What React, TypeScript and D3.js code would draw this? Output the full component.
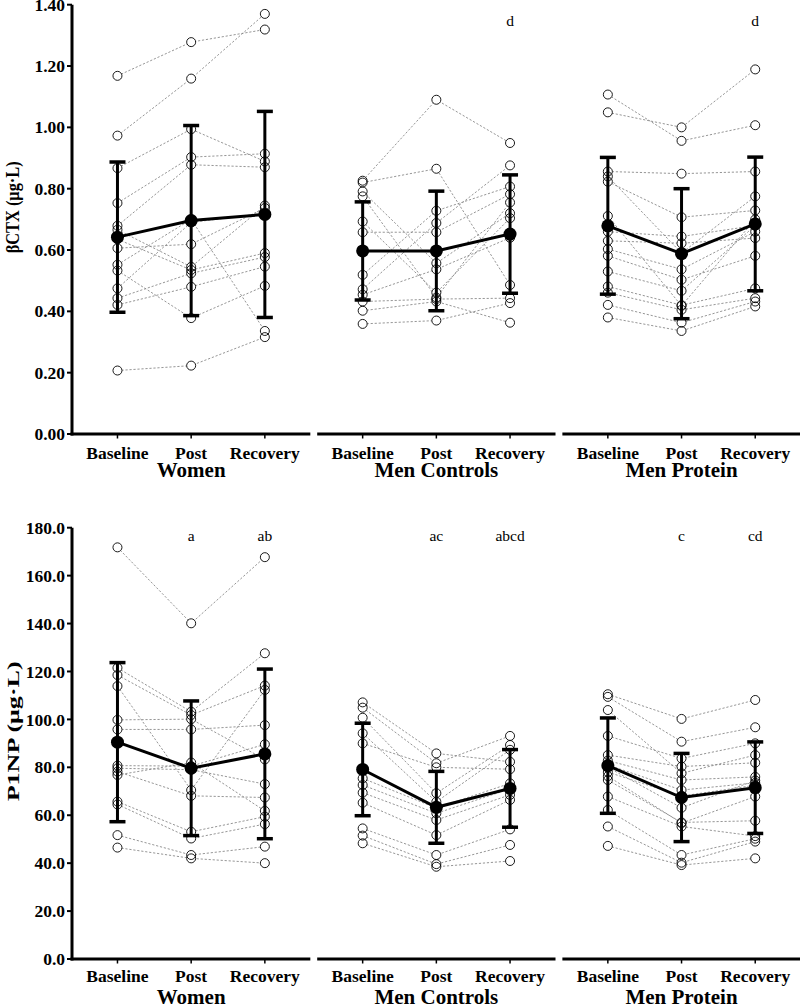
import React from "react";
import * as d3 from "d3";

const timepoints = ["Baseline", "Post", "Recovery"];
const groups = ["Women", "Men Controls", "Men Protein"];

const ctxTicks = [0, 0.2, 0.4, 0.6, 0.8, 1.0, 1.2, 1.4];
const p1npTicks = [0, 20, 40, 60, 80, 100, 120, 140, 160, 180];

// βCTX individual subjects [Baseline, Post, Recovery]
const ctxWomen = [
  [1.168, 1.278, 1.319],
  [0.973, 1.159, 1.37],
  [0.867, 0.994, 0.889],
  [0.753, 0.903, 0.914],
  [0.679, 0.878, 0.87],
  [0.666, 0.545, 0.745],
  [0.635, 0.535, 0.59],
  [0.606, 0.619, 0.737],
  [0.552, 0.7, 0.336],
  [0.533, 0.378, 0.483],
  [0.475, 0.69, 0.72],
  [0.443, 0.524, 0.577],
  [0.421, 0.48, 0.546],
  [0.207, 0.223, 0.316],
];
const ctxMenControls = [
  [0.826, 1.09, 0.949],
  [0.82, 0.865, 0.486],
  [0.791, 0.557, 0.72],
  [0.775, 0.445, 0.755],
  [0.693, 0.461, 0.704],
  [0.658, 0.658, 0.782],
  [0.519, 0.728, 0.807],
  [0.472, 0.688, 0.876],
  [0.454, 0.537, 0.64],
  [0.432, 0.44, 0.443],
  [0.402, 0.432, 0.363],
  [0.359, 0.37, 0.427],
];
const ctxMenProtein = [
  [1.107, 0.956, 1.007],
  [1.049, 1.0, 1.189],
  [0.856, 0.849, 0.856],
  [0.84, 0.59, 0.775],
  [0.823, 0.707, 0.729],
  [0.711, 0.418, 0.7],
  [0.66, 0.644, 0.68],
  [0.63, 0.622, 0.639],
  [0.603, 0.537, 0.66],
  [0.581, 0.503, 0.581],
  [0.53, 0.467, 0.68],
  [0.481, 0.42, 0.475],
  [0.461, 0.405, 0.443],
  [0.421, 0.363, 0.432],
  [0.38, 0.336, 0.416],
];
const ctxMean = [
  [0.642, 0.696, 0.716],
  [0.597, 0.597, 0.652],
  [0.679, 0.588, 0.685],
];
const ctxSD = [
  [0.245, 0.31, 0.336],
  [0.16, 0.195, 0.193],
  [0.223, 0.212, 0.218],
];
const ctxLetters = [
  ["", "", ""],
  ["", "", "d"],
  ["", "", "d"],
];

// P1NP individual subjects [Baseline, Post, Recovery]
const p1npWomen = [
  [171.8, 140.1, 167.7],
  [121.5, 103.2, 127.6],
  [118.5, 101.8, 114.1],
  [113.9, 70.5, 112.3],
  [99.8, 100.1, 83.3],
  [95.8, 95.8, 97.6],
  [80.7, 80.5, 89.6],
  [79.6, 79.0, 73.0],
  [78.2, 68.1, 67.4],
  [76.8, 82.0, 61.8],
  [65.7, 53.1, 59.4],
  [64.5, 50.3, 56.3],
  [51.7, 43.4, 46.9],
  [46.5, 42.0, 40.0],
];
const p1npMenControls = [
  [107.1, 85.8, 82.3],
  [104.9, 81.7, 93.1],
  [100.7, 69.2, 89.3],
  [94.2, 65.6, 87.3],
  [90.0, 80.0, 79.2],
  [75.4, 63.0, 73.3],
  [72.6, 60.8, 71.0],
  [69.4, 58.0, 68.5],
  [65.2, 51.7, 66.4],
  [54.5, 43.4, 54.1],
  [51.5, 39.6, 47.6],
  [48.3, 38.5, 40.9],
];
const p1npMenProtein = [
  [110.5, 100.2, 108.1],
  [109.4, 90.7, 96.7],
  [103.9, 77.5, 85.1],
  [93.1, 83.7, 90.0],
  [85.1, 80.3, 81.9],
  [82.8, 74.7, 76.0],
  [81.0, 70.5, 73.5],
  [80.0, 63.1, 74.5],
  [78.0, 68.0, 72.5],
  [76.3, 56.7, 67.8],
  [74.7, 57.0, 57.7],
  [67.8, 55.3, 51.3],
  [62.2, 43.4, 50.2],
  [55.3, 40.2, 49.0],
  [47.2, 39.2, 42.0],
];
const p1npMean = [
  [90.5, 79.6, 85.6],
  [79.1, 63.3, 71.2],
  [80.7, 67.4, 71.5],
];
const p1npSD = [
  [33.2, 28.1, 35.4],
  [19.3, 15.0, 16.2],
  [19.9, 18.4, 19.1],
];
const p1npLetters = [
  ["", "a", "ab"],
  ["", "ac", "abcd"],
  ["", "c", "cd"],
];

const FONT = "'Liberation Serif', 'Times New Roman', serif";

const xBand = d3.scaleBand<string>().domain(groups).range([72, 800.7]).paddingInner(0.028);
const xPoint = d3.scalePoint<string>().domain(timepoints).range([0, xBand.bandwidth()]).padding(0.617);

type PanelProps = {
  subjects: number[][][];
  means: number[][];
  sds: number[][];
  letters: string[][];
  ticks: number[];
  fmt: (v: number) => string;
  y: d3.ScaleLinear<number, number>;
  title: string;
  titleLen: number;
  titleSize: number;
  tickLabelY: number;
  groupLabelY: number;
  letterValue: number;
};

function Panel(p: PanelProps) {
  const { y } = p;
  const [y0, y1] = y.range();
  const lineGen = d3.line<number>().x((_, i) => xPoint(timepoints[i])!).y((d) => y(d));
  const yMid = (y0 + y1) / 2;
  return (
    <g>
      {/* y axis */}
      <line x1={72} x2={72} y1={y1} y2={y0 + 1.5} stroke="#000" strokeWidth={3} />
      {p.ticks.map((t) => (
        <g key={t}>
          <line x1={67} x2={72} y1={y(t)} y2={y(t)} stroke="#000" strokeWidth={2} />
          <text x={65} y={y(t)} dy="0.35em" textAnchor="end" fontFamily={FONT} fontWeight="bold" fontSize={17.5}>
            {p.fmt(t)}
          </text>
        </g>
      ))}
      <text
        transform={`translate(19,${yMid - 12}) rotate(-90)`}
        textAnchor="middle"
        fontFamily={FONT}
        fontWeight="bold"
        fontSize={p.titleSize}
        textLength={p.titleLen}
        lengthAdjust="spacingAndGlyphs"
      >
        {p.title}
      </text>
      {groups.map((g, gi) => {
        const gx = xBand(g)!;
        const subj = p.subjects[gi];
        return (
          <g key={g} transform={`translate(${gx},0)`}>
            {/* x axis segment */}
            <line x1={gi === 0 ? -1.5 : 0} x2={xBand.bandwidth()} y1={y0} y2={y0} stroke="#000" strokeWidth={3} />
            {timepoints.map((t) => (
              <g key={t}>
                <line x1={xPoint(t)} x2={xPoint(t)} y1={y0} y2={y0 + 4.5} stroke="#000" strokeWidth={1.5} />
                <text x={xPoint(t)} y={p.tickLabelY} textAnchor="middle" fontFamily={FONT} fontWeight="bold" fontSize={17.5}>
                  {t}
                </text>
              </g>
            ))}
            <text x={xBand.bandwidth() / 2} y={p.groupLabelY} textAnchor="middle" fontFamily={FONT} fontWeight="bold" fontSize={21}>
              {g}
            </text>
            {/* individual lines */}
            {subj.map((s, si) => (
              <path key={si} d={lineGen(s)!} fill="none" stroke="#8a8a8a" strokeWidth={0.9} strokeDasharray="2.2,1.8" />
            ))}
            {subj.map((s, si) =>
              s.map((v, ti) => (
                <circle key={`w${si}-${ti}`} cx={xPoint(timepoints[ti])} cy={y(v)} r={4.5} fill="#fff" />
              ))
            )}
            {subj.map((s, si) =>
              s.map((v, ti) => (
                <circle key={`c${si}-${ti}`} cx={xPoint(timepoints[ti])} cy={y(v)} r={4.5} fill="none" stroke="#000" strokeWidth={0.9} />
              ))
            )}
            {/* error bars */}
            {timepoints.map((t, ti) => {
              const m = p.means[gi][ti];
              const sd = p.sds[gi][ti];
              const cx = xPoint(t)!;
              return (
                <g key={`e${t}`}>
                  <line x1={cx} x2={cx} y1={y(m + sd)} y2={y(m - sd)} stroke="#000" strokeWidth={3} />
                  <line x1={cx - 8} x2={cx + 8} y1={y(m + sd)} y2={y(m + sd)} stroke="#000" strokeWidth={3.5} />
                  <line x1={cx - 8} x2={cx + 8} y1={y(m - sd)} y2={y(m - sd)} stroke="#000" strokeWidth={3.5} />
                </g>
              );
            })}
            <path d={lineGen(p.means[gi])!} fill="none" stroke="#000" strokeWidth={3} />
            {timepoints.map((t, ti) => (
              <circle key={`m${t}`} cx={xPoint(t)} cy={y(p.means[gi][ti])} r={6.5} fill="#000" />
            ))}
            {timepoints.map((t, ti) =>
              p.letters[gi][ti] ? (
                <text key={`l${t}`} x={xPoint(t)} y={y(p.letterValue)} textAnchor="middle" fontFamily={FONT} fontSize={15.5}>
                  {p.letters[gi][ti]}
                </text>
              ) : null
            )}
          </g>
        );
      })}
    </g>
  );
}

export default function App() {
  const yCtx = d3.scaleLinear().domain([0, 1.4]).range([434, 4.7]);
  const yP1np = d3.scaleLinear().domain([0, 180]).range([959, 527.7]);
  return (
    <svg width={800} height={1007} style={{ position: "absolute", left: 0, top: 0, background: "#fff" }}>
      <rect width={800} height={1007} fill="#fff" />
      <Panel
        subjects={[ctxWomen, ctxMenControls, ctxMenProtein]}
        means={ctxMean}
        sds={ctxSD}
        letters={ctxLetters}
        ticks={ctxTicks}
        fmt={(v) => v.toFixed(2)}
        y={yCtx}
        title="βCTX (μg·L)"
        titleLen={92}
        titleSize={18}
        tickLabelY={459}
        groupLabelY={477}
        letterValue={1.33}
      />
      <Panel
        subjects={[p1npWomen, p1npMenControls, p1npMenProtein]}
        means={p1npMean}
        sds={p1npSD}
        letters={p1npLetters}
        ticks={p1npTicks}
        fmt={(v) => v.toFixed(1)}
        y={yP1np}
        title="P1NP (μg·L)"
        titleLen={140}
        titleSize={17}
        tickLabelY={982}
        groupLabelY={1004}
        letterValue={174.5}
      />
    </svg>
  );
}
